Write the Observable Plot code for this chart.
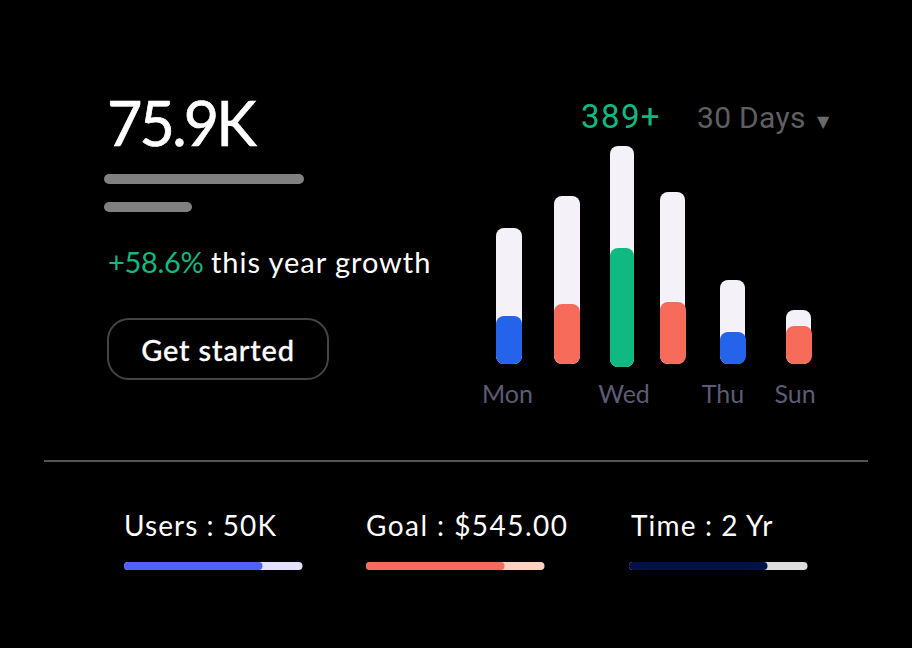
<!DOCTYPE html>
<html><head><meta charset="utf-8">
<script src="https://cdn.jsdelivr.net/npm/d3@7"></script>
<script src="https://cdn.jsdelivr.net/npm/@observablehq/plot@0.6"></script>
<style>
html,body{margin:0;padding:0;background:#000;overflow:hidden}
#wrap{position:relative;width:912px;height:648px;background:#000;font-family:Lato,sans-serif;color:#fff}
#wrap>*{position:absolute}
#wrap svg{background:transparent;display:block;overflow:visible}
.t{white-space:nowrap;line-height:1}
</style></head><body><div id="wrap"></div>
<script>
const headline = "75.9K";
const growthValue = "+58.6%";
const growthText = "this year growth";
const buttonLabel = "Get started";
const countLabel = "389+";
const rangeLabel = "30 Days";
const rangeArrow = "▼";

const barIds = ["b1","b2","b3","b4","b5","b6"];
const totals = [136,168,221,172,84,54];
const fills = [48,60,119,62,32,38];
const fillKinds = ["blue","coral","green","coral","blue","coral"];
const tickBars = ["Mon","Wed","Thu","Sun"];

const placeholderIds = ["long","short"];
const placeholderValues = [100,44];

const statLabels = ["Users : 50K","Goal : $545.00","Time : 2 Yr"];
const statProgress = [77.6,77.6,77.6];

const kindColors = {blue:"#2563eb",coral:"#f76b5a",green:"#10b981"};
const trackColor = "#f5f1f9";
const wrap = document.getElementById("wrap");

function place(el,left,top){el.style.left=left+"px";el.style.top=top+"px";wrap.appendChild(el);return el;}
function html(s,left,top,css){const d=document.createElement("div");d.className="t";d.style.cssText=css;d.innerHTML=s;return place(d,left,top);}

// headline + text
html(headline,107,92,"font-size:61px;font-weight:400;letter-spacing:-2.8px;-webkit-text-stroke:.7px #fff");
html(`<span style="color:#10b981;letter-spacing:-.3px">${growthValue}</span> <span style="letter-spacing:.95px">${growthText}</span>`,108,247,"font-size:29px;font-weight:400");
html(buttonLabel,107,318,"width:218px;height:58px;border:2px solid #444;border-radius:22px;box-sizing:content-box;display:flex;align-items:center;justify-content:center;font-size:29px;font-weight:500;letter-spacing:.85px;-webkit-text-stroke:.3px #fff");
html(countLabel,581,100,"font-family:Roboto;font-size:33px;letter-spacing:1.4px;color:#10b981");
html(rangeLabel,697,103,"font-family:Roboto;font-size:30px;letter-spacing:.3px;color:#5f5f5f");
html(rangeArrow,817,114,"font-family:'DejaVu Sans';font-size:16px;color:#6a6a6a");

// placeholder lines
place(Plot.plot({width:200,height:38,margin:0,
  x:{axis:null,domain:[0,100],range:[0,200]},
  y:{axis:null,type:"band",domain:placeholderIds,range:[0,38],paddingInner:18/28,paddingOuter:0,round:false},
  marks:[Plot.barX(placeholderIds.map((id,i)=>({id,v:placeholderValues[i]})),{x:"v",y:"id",fill:"#808080",rx:5})]
}),104,174);

// weekly bars
const barLeft = {b1:26,b2:84,b3:140,b4:190,b5:250,b6:316};
const barWidth = {b1:26,b2:26,b3:24,b4:25,b5:25,b6:25};
const fillExtra = {b4:1,b5:1,b6:1};
const tickCenter = {Mon:37,Wed:153.5,Thu:252.5,Sun:324.5};
const rows = barIds.map((id,i)=>({id,total:totals[i],fill:fills[i],kind:fillKinds[i]}));
const tickRows = tickBars.map(name=>({name}));
place(Plot.plot({width:380,height:282,margin:0,marginBottom:46,
  x:{axis:null,domain:[0,380],range:[0,380]},
  y:{axis:null,domain:[0,236],range:[236,0]},
  marks:[
    ...rows.map(r=>{
      const dy = r.id==="b3"?3:0;
      const l = barLeft[r.id], w = barWidth[r.id];
      return [
        Plot.rectY([r],{x1:()=>l,x2:()=>l+w,y:"total",fill:trackColor,rx:8,dy}),
        Plot.rectY([r],{x1:()=>l,x2:()=>l+w+(fillExtra[r.id]||0),y:"fill",fill:d=>kindColors[d.kind],rx:8,dy})
      ];
    }),
    Plot.text(tickRows,{x:d=>tickCenter[d.name],text:"name",frameAnchor:"bottom",dy:38,fill:"#5c5c72",fontSize:25,fontFamily:"Lato"})
  ]
}),470,128);

// divider
place(Plot.plot({width:824,height:2,margin:0,x:{axis:null,domain:[0,1]},y:{axis:null,domain:[0,1]},
  marks:[Plot.rectY([0],{x1:()=>0,x2:()=>1,y1:()=>0,y2:()=>1,fill:"#555"})]}),44,459.5);

// bottom stats
const statStyles = [["#4f62f5","#e5e0fb"],["#f76b5a","#fed2c0"],["#021248","#dcdcdc"]];
const statLeft = [124,366,629];
const statSpacing = [1.05,1.45,1.15];
const statTextLeft = [124,366,631];
statLabels.forEach((label,i)=>{
  html(label,statTextLeft[i],511,`font-size:28px;font-weight:400;letter-spacing:${statSpacing[i]}px`);
  place(Plot.plot({width:178.5,height:8,margin:0,
    x:{axis:null,domain:[0,100],range:[0,178.5]},
    y:{axis:null,domain:[0,1]},
    marks:[
      Plot.rectX([100],{x:d=>d,y1:()=>0,y2:()=>1,fill:statStyles[i][1],rx:4}),
      Plot.rectX([statProgress[i]],{x:d=>d,y1:()=>0,y2:()=>1,fill:statStyles[i][0],rx:4})
    ]}),statLeft[i],562);
});
</script></body></html>
